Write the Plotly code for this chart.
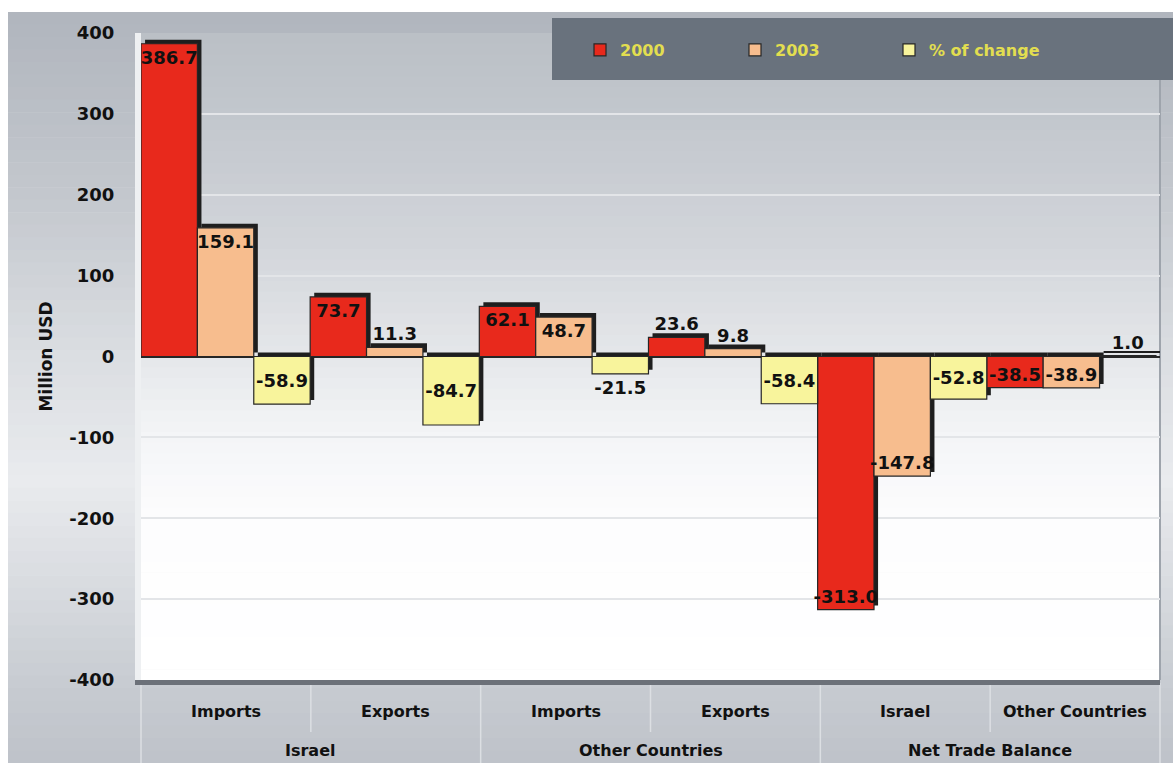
import plotly.graph_objects as go

# Category levels: outer group and inner flow
groups = ["Israel", "Israel", "Other Countries", "Other Countries",
          "Net Trade Balance", "Net Trade Balance"]
flows = ["Imports", "Exports", "Imports", "Exports", "Israel", "Other Countries"]

# Series values (million USD / percent)
values_2000 = [386.7, 73.7, 62.1, 23.6, -313.0, -38.5]
values_2003 = [159.1, 11.3, 48.7, 9.8, -147.8, -38.9]
pct_change = [-58.9, -84.7, -21.5, -58.4, -52.8, 1.0]

series_names = ["2000", "2003", "% of change"]
y_ticks = [-400, -300, -200, -100, 0, 100, 200, 300, 400]

# ---- geometry of the figure (pixels) ----
W, H = 1173, 763
ML, MR, MT, MB = 141, 13, 33, 83
PW, PH = W - ML - MR, H - MT - MB


def px_to_paper_x(px):
    return (px - ML) / PW


def px_to_paper_y(py):
    return (H - MB - py) / PH


def lerp(stops, v):
    for (a, ca), (b, cb) in zip(stops, stops[1:]):
        if a <= v <= b:
            t = (v - a) / (b - a) if b > a else 0
            return tuple(round(ca[i] + (cb[i] - ca[i]) * t) for i in range(3))
    return stops[-1][1] if v > stops[-1][0] else stops[0][1]


def rgb(c):
    return "rgb(%d,%d,%d)" % c


shapes = []

# outer frame gradient
frame_stops = [(12, (176, 181, 189)), (200, (196, 200, 206)), (350, (218, 221, 225)),
               (480, (233, 235, 238)), (600, (214, 217, 222)), (680, (200, 204, 210)),
               (763, (190, 194, 201))]
n = 60
top, bot = 12, H
for i in range(n):
    y0 = top + (bot - top) * i / n
    y1 = top + (bot - top) * (i + 1) / n + 0.6
    shapes.append(dict(type="rect", xref="paper", yref="paper", layer="below",
                       x0=px_to_paper_x(8), x1=px_to_paper_x(W),
                       y0=px_to_paper_y(y1), y1=px_to_paper_y(y0),
                       fillcolor=rgb(lerp(frame_stops, (y0 + y1) / 2)), line_width=0))

# back wall gradient inside the plotting area
wall_stops = [(33, (186, 191, 198)), (150, (198, 202, 208)), (250, (211, 214, 219)),
              (356, (229, 231, 234)), (430, (243, 244, 246)), (520, (253, 253, 254)),
              (680, (255, 255, 255))]
top, bot = MT, H - MB
for i in range(n):
    y0 = top + (bot - top) * i / n
    y1 = top + (bot - top) * (i + 1) / n + 0.6
    shapes.append(dict(type="rect", xref="paper", yref="paper", layer="below",
                       x0=0, x1=1,
                       y0=px_to_paper_y(y1), y1=px_to_paper_y(y0),
                       fillcolor=rgb(lerp(wall_stops, (y0 + y1) / 2)), line_width=0))

# right wall edge
shapes.append(dict(type="line", xref="paper", yref="paper", layer="below",
                   x0=1, x1=1, y0=0, y1=1, line=dict(color="#9ea4ac", width=2)))

# category separators in the label band
n_cat = len(flows)
for i in range(n_cat + 1):
    outer = i in (0, n_cat) or groups[i - 1] != groups[i]
    shapes.append(dict(type="line", xref="paper", yref="paper", layer="below",
                       x0=i / n_cat, x1=i / n_cat,
                       y0=px_to_paper_y(H if outer else 732), y1=px_to_paper_y(683),
                       line=dict(color="#dcdfe3", width=1.5)))

# legend panel
shapes.append(dict(type="rect", xref="paper", yref="paper", layer="above",
                   x0=px_to_paper_x(552), x1=px_to_paper_x(W),
                   y0=px_to_paper_y(80), y1=px_to_paper_y(18),
                   fillcolor="#69727d", line_width=0))

colors = ["#e8291c", "#f7bd8e", "#f8f49c"]
all_values = [values_2000, values_2003, pct_change]
offsets = [-0.5, -1 / 6, 1 / 6]
bar_w = 1 / 3
depth_x = 0.024  # extrusion to the right, in category units
depth_y = 5      # extrusion upwards, in data units
anchors = ["end", "end", "middle"]
legend_ids = ["legend", "legend2", "legend3"]

fig = go.Figure()

# extruded backs of the bars
for vals, off in zip(all_values, offsets):
    fig.add_trace(go.Bar(
        x=[groups, flows], y=vals, base=depth_y,
        offset=off + depth_x, width=bar_w,
        marker=dict(color="#1e1e1e", line=dict(width=0)),
        showlegend=False, hoverinfo="skip"))

# front faces with value labels
for name, vals, off, col, anc, lg in zip(series_names, all_values, offsets,
                                         colors, anchors, legend_ids):
    fig.add_trace(go.Bar(
        x=[groups, flows], y=vals, name=name,
        offset=off, width=bar_w,
        marker=dict(color=col, line=dict(color="#262626", width=1.2)),
        texttemplate="%{y:.1f}",
        textposition=["outside" if abs(v) < 30 else "inside" for v in vals],
        insidetextanchor=anc, textangle=0,
        textfont=dict(family="DejaVu Sans", size=18, color="#111111", weight="bold"),
        cliponaxis=False,
        legend=lg))

bold = dict(family="DejaVu Sans", color="#111111", weight="bold")
legend_font = dict(family="DejaVu Sans", size=16, color="#e2de50", weight="bold")
legend_y = px_to_paper_y(50)


def legend_at(px):
    return dict(x=px_to_paper_x(px), xanchor="left", y=legend_y, yanchor="middle",
                orientation="h", bgcolor="rgba(0,0,0,0)", font=legend_font,
                borderwidth=0)


# two-level category labels under the floor
annotations = []
for i, f in enumerate(flows):
    annotations.append(dict(text=f, xref="paper", yref="paper",
                            x=(i + 0.5) / n_cat, y=px_to_paper_y(711),
                            xanchor="center", yanchor="middle", showarrow=False,
                            font=dict(size=16, **bold)))
seen = []
for g in groups:
    if g not in seen:
        seen.append(g)
for g in seen:
    idx = [i for i, gg in enumerate(groups) if gg == g]
    annotations.append(dict(text=g, xref="paper", yref="paper",
                            x=(sum(idx) / len(idx) + 0.5) / n_cat,
                            y=px_to_paper_y(750),
                            xanchor="center", yanchor="middle", showarrow=False,
                            font=dict(size=16, **bold)))

fig.update_layout(
    width=W, height=H,
    margin=dict(l=ML, r=MR, t=MT, b=MB, pad=0),
    paper_bgcolor="white", plot_bgcolor="rgba(0,0,0,0)",
    barmode="overlay",
    uniformtext=dict(minsize=18, mode="show"),
    shapes=shapes,
    annotations=annotations,
    legend=legend_at(580), legend2=legend_at(735), legend3=legend_at(889),
    xaxis=dict(
        type="multicategory", showgrid=False,
        showticklabels=False, ticks="", showdividers=False,
        showline=True, linecolor="#6c7179", linewidth=5,
        layer="below traces"),
    yaxis=dict(
        range=[-400, 400], tickvals=y_ticks, ticktext=[str(v) for v in y_ticks],
        tickfont=dict(size=18, **bold),
        ticks="outside", ticklen=17, tickcolor="rgba(0,0,0,0)",
        showgrid=True, gridcolor="#e3e5e8", gridwidth=1.5,
        zeroline=True, zerolinecolor="#262626", zerolinewidth=2,
        showline=True, linecolor="#eef0f2", linewidth=6,
        layer="below traces",
        title=dict(text="Million USD", font=dict(size=17, **bold), standoff=14)),
)

fig.write_html("out.html")
